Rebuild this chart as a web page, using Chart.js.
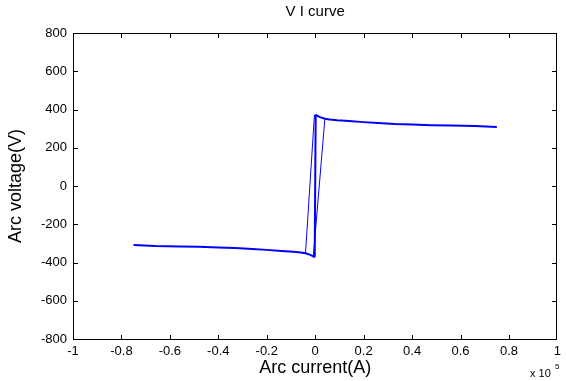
<!DOCTYPE html>
<html>
<head>
<meta charset="utf-8">
<script src="https://cdn.jsdelivr.net/npm/chart.js@4/dist/chart.umd.min.js"></script>
<style>
html,body{margin:0;padding:0;background:#fff;}
#wrap{width:566px;height:381px;position:relative;}
</style>
</head>
<body>
<div id="wrap"><canvas id="c" width="566" height="381"></canvas></div>
<script>
// Data (current in units of 1e5 A, voltage in V)
const branchI = [0.002, 0.01, 0.02, 0.04, 0.06, 0.09, 0.14, 0.2, 0.26, 0.33, 0.4, 0.48, 0.56, 0.66, 0.75];
const branchV = [373, 366, 360, 352, 348, 344, 340, 334, 329, 324, 321, 318, 316, 314, 309];
const jumpCenterI = [-0.002, 0.002];
const jumpCenterV = [-373, 373];
const jumpLeftI = [-0.04, -0.003];
const jumpLeftV = [-352, 373];
const jumpRightI = [0.04, -0.008];
const jumpRightV = [352, -372];
const xTicks = [-1, -0.8, -0.6, -0.4, -0.2, 0, 0.2, 0.4, 0.6, 0.8, 1];
const yTicks = [-800, -600, -400, -200, 0, 200, 400, 600, 800];

const pts = (xs, ys) => xs.map((x, i) => ({x: x, y: ys[i]}));
const rightBranch = pts(branchI, branchV);
const leftBranch = pts(branchI.map(v => -v), branchV.map(v => -v));

const FONT = "'Liberation Sans', Arial, Helvetica, sans-serif";
const BLUE = 'rgb(0,0,255)';

const frame = {
  id: 'frame',
  afterDraw(chart) {
    const ctx = chart.ctx;
    const a = chart.chartArea;
    const x = chart.scales.x, y = chart.scales.y;
    const l = Math.round(a.left), r = Math.round(a.right) - 1;
    const t = Math.round(a.top), b = Math.round(a.bottom);
    ctx.save();
    ctx.globalAlpha = 1;
    ctx.globalCompositeOperation = 'source-over';
    ctx.fillStyle = '#000';
    // box
    ctx.fillRect(l, t, r - l + 1, 1);
    ctx.fillRect(l, b, r - l + 1, 1);
    ctx.fillRect(l, t, 1, b - t + 1);
    ctx.fillRect(r, t, 1, b - t + 1);
    const L = 4;
    xTicks.forEach(v => {
      const px = Math.min(r, Math.round(x.getPixelForValue(v)));
      ctx.fillRect(px, b - L, 1, L);
      ctx.fillRect(px, t + 1, 1, L);
    });
    yTicks.forEach(v => {
      const py = Math.min(b, Math.round(y.getPixelForValue(v)));
      ctx.fillRect(l + 1, py, L, 1);
      ctx.fillRect(r - L, py, L, 1);
    });
    // Title
    ctx.font = '15px ' + FONT;
    ctx.textAlign = 'center';
    ctx.textBaseline = 'middle';
    ctx.fillText('V I curve', (a.left + a.right) / 2, 12);
    // exponent note
    ctx.textAlign = 'left';
    ctx.textBaseline = 'alphabetic';
    ctx.font = '11px ' + FONT;
    ctx.fillText('x 10', 530, 377);
    ctx.font = '8px ' + FONT;
    ctx.fillText('5', 555, 369);
    ctx.restore();
  }
};

const ds = (data, w) => ({data: data, showLine: true, borderColor: BLUE, backgroundColor: BLUE, borderWidth: w, pointRadius: 0, tension: 0, fill: false});

new Chart(document.getElementById('c'), {
  type: 'scatter',
  data: {
    datasets: [
      ds(leftBranch, 2),
      ds(rightBranch, 2),
      ds(pts(jumpCenterI, jumpCenterV), 2),
      ds(pts(jumpLeftI, jumpLeftV), 1),
      ds(pts(jumpRightI, jumpRightV), 1)
    ]
  },
  options: {
    responsive: false,
    animation: false,
    layout: {padding: {top: 33, right: 3, left: 0, bottom: 0}},
    plugins: {legend: {display: false}, title: {display: false}, tooltip: {enabled: false}},
    scales: {
      x: {
        type: 'linear', min: -1, max: 1,
        afterBuildTicks: s => { s.ticks = xTicks.map(v => ({value: v})); },
        afterFit: s => { s.height = 42; },
        grid: {display: false, drawTicks: false},
        border: {display: false},
        ticks: {color: '#000', font: {family: FONT, size: 13}, padding: 5, maxRotation: 0, autoSkip: false,
          callback: v => String(Math.round(v * 10) / 10)},
        title: {display: true, text: 'Arc current(A)', color: '#000', font: {family: FONT, size: 18}, padding: {top: 0, bottom: 2}}
      },
      y: {
        type: 'linear', min: -800, max: 800,
        afterBuildTicks: s => { s.ticks = yTicks.map(v => ({value: v})); },
        afterFit: s => { s.width = 73; },
        grid: {display: false, drawTicks: false},
        border: {display: false},
        ticks: {color: '#000', font: {family: FONT, size: 13}, padding: 6, autoSkip: false},
        title: {display: true, text: 'Arc voltage(V)', color: '#000', font: {family: FONT, size: 18}, padding: {top: 5, bottom: 0}}
      }
    }
  },
  plugins: [frame]
});
</script>
</body>
</html>
